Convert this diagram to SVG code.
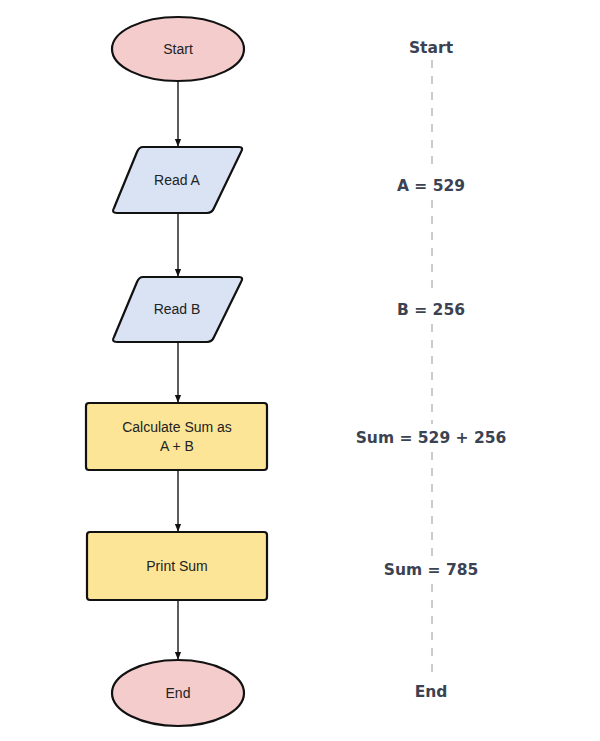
<svg xmlns="http://www.w3.org/2000/svg" width="600" height="741" viewBox="0 0 600 741">
<defs>
<style>
.term{fill:#f4cccc;stroke:#111;stroke-width:2.2}
.io{fill:#dae3f3;stroke:#111;stroke-width:2.2;stroke-linejoin:round}
.proc{fill:#fde597;stroke:#111;stroke-width:2.2}
.lbl{font-family:"Liberation Sans",Arial,sans-serif;font-size:14px;fill:#222;text-anchor:middle}
.trace{font-family:"DejaVu Sans","Liberation Sans",sans-serif;font-weight:bold;font-size:15.5px;fill:#3b4252;text-anchor:middle}
.edge{stroke:#333;stroke-width:1.6;fill:none}
.dash{stroke:#9a9a9a;stroke-width:1;stroke-dasharray:8 8;fill:none}
</style>
<marker id="arr" viewBox="0 0 10 10" refX="9" refY="5" markerWidth="8" markerHeight="8" orient="auto" markerUnits="userSpaceOnUse">
<path d="M0,1 L10,5 L0,9 Z" fill="#111"/>
</marker>
</defs>
<rect width="600" height="741" fill="#fff"/>
<g id="connectors">
<line class="edge" x1="178" y1="81" x2="178" y2="146" marker-end="url(#arr)"/>
<line class="edge" x1="178" y1="213" x2="178" y2="276" marker-end="url(#arr)"/>
<line class="edge" x1="178" y1="342" x2="178" y2="402" marker-end="url(#arr)"/>
<line class="edge" x1="178" y1="470" x2="178" y2="531" marker-end="url(#arr)"/>
<line class="edge" x1="178" y1="600" x2="178" y2="659" marker-end="url(#arr)"/>
</g>
<g id="trace-line">
<line class="dash" x1="432" y1="60" x2="432" y2="172"/>
<line class="dash" x1="432" y1="200" x2="432" y2="296"/>
<line class="dash" x1="432" y1="324" x2="432" y2="424"/>
<line class="dash" x1="432" y1="452" x2="432" y2="556"/>
<line class="dash" x1="432" y1="584" x2="432" y2="672"/>
</g>
<g id="start">
<ellipse class="term" cx="178" cy="49" rx="66" ry="32"/>
<text class="lbl" x="178" y="54">Start</text>
</g>
<g id="readA">
<path class="io" d="M143,147 L239,147 Q244,147 241,152 L214,208 Q212,213 207,213 L117,213 Q111,213 114,208 L137,152 Q139,147 143,147 Z"/>
<text class="lbl" x="177" y="185">Read A</text>
</g>
<g id="readB">
<path class="io" d="M143,277 L239,277 Q244,277 241,282 L214,337 Q212,342 207,342 L117,342 Q111,342 114,337 L137,282 Q139,277 143,277 Z"/>
<text class="lbl" x="177" y="314">Read B</text>
</g>
<g id="calc">
<rect class="proc" x="86" y="403" width="181" height="67" rx="3"/>
<text class="lbl" x="177" y="432">Calculate Sum as</text>
<text class="lbl" x="177" y="451">A + B</text>
</g>
<g id="print">
<rect class="proc" x="87" y="532" width="180" height="68" rx="3"/>
<text class="lbl" x="177" y="571">Print Sum</text>
</g>
<g id="end">
<ellipse class="term" cx="178" cy="693" rx="66" ry="33"/>
<text class="lbl" x="178" y="698">End</text>
</g>
<g id="trace">
<text class="trace" x="431" y="53">Start</text>
<text class="trace" x="431" y="191">A = 529</text>
<text class="trace" x="431" y="315">B = 256</text>
<text class="trace" x="431" y="443">Sum = 529 + 256</text>
<text class="trace" x="431" y="575">Sum = 785</text>
<text class="trace" x="431" y="697">End</text>
</g>
</svg>
